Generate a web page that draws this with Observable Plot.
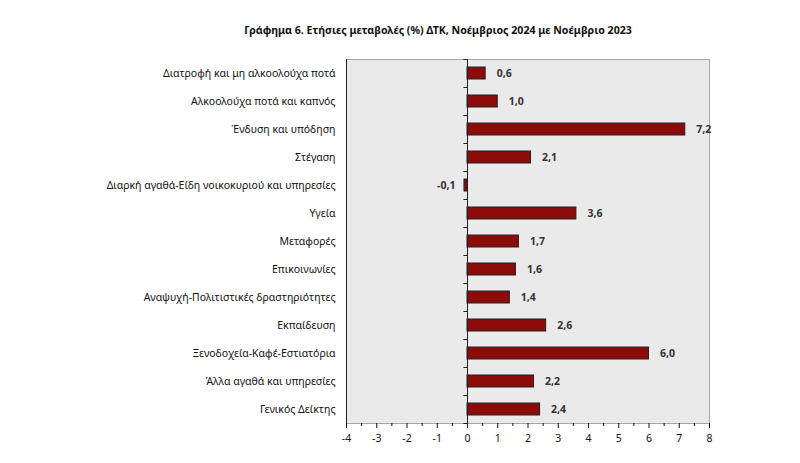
<!DOCTYPE html>
<html><head><meta charset="utf-8">
<script src="https://cdn.jsdelivr.net/npm/d3@7"></script>
<script src="https://cdn.jsdelivr.net/npm/@observablehq/plot@0.6"></script>
<style>
body{margin:0;background:#fff;}
#wrap{position:relative;width:800px;height:463px;}
#title{position:absolute;left:0;width:876px;top:23px;text-align:center;font:bold 10.6px "Noto Sans",sans-serif;color:#111;}
</style></head>
<body><div id="wrap"><div id="title">Γράφημα 6. Ετήσιες μεταβολές (%) ΔΤΚ, Νοέμβριος 2024 με Νοέμβριο 2023</div></div>
<script>
const categories = ["Διατροφή και μη αλκοολούχα ποτά","Αλκοολούχα ποτά και καπνός","Ένδυση και υπόδηση","Στέγαση","Διαρκή αγαθά-Είδη νοικοκυριού και υπηρεσίες","Υγεία","Μεταφορές","Επικοινωνίες","Αναψυχή-Πολιτιστικές δραστηριότητες","Εκπαίδευση","Ξενοδοχεία-Καφέ-Εστιατόρια","Άλλα αγαθά και υπηρεσίες","Γενικός Δείκτης"];
const values = [0.6,1.0,7.2,2.1,-0.1,3.6,1.7,1.6,1.4,2.6,6.0,2.2,2.4];
const xTicks = [-4,-3,-2,-1,0,1,2,3,4,5,6,7,8];
const data = categories.map((c,i)=>({c, v: values[i]}));
const fmt = v => v.toFixed(1).replace(".", ",");
const halfTicks = d3.range(-3.5, 8, 1);
const pos = data.filter(d => d.v >= 0), neg = data.filter(d => d.v < 0);
const chart = Plot.plot({
  width: 800, height: 463,
  marginLeft: 346, marginRight: 91, marginTop: 59, marginBottom: 40,
  style: {fontFamily: "'Noto Sans', sans-serif", fontSize: "10.5px", color: "#111", background: "transparent"},
  x: {domain: [-4, 8]},
  y: {domain: categories, paddingInner: 0.57, paddingOuter: 0.285, label: null},
  marks: [
    Plot.frame({fill: "#eaeaea", fillOpacity: 1, stroke: "#a6a6a6"}),
    Plot.axisY({tickSize: 0, tickPadding: 11, label: null, fontSize: 10.5}),
    Plot.axisX({ticks: xTicks, tickSize: 5, tickPadding: 6, tickFormat: d => d, label: null, fontSize: 10.5}),
    Plot.axisX({ticks: halfTicks, tickSize: 3, tickFormat: () => "", label: null}),
    Plot.ruleX([-4], {stroke: "#222"}),
    Plot.barX(data, {y: "c", x: "v", fill: "#8b0a0a", stroke: "#222", strokeWidth: 1}),
    Plot.ruleX([0], {stroke: "#222"}),
    Plot.ruleY(data, {y: "c", x1: -0.12, x2: 0, dy: -14, stroke: "#222"}),
    Plot.ruleY(data.slice(-1), {y: "c", x1: -0.12, x2: 0, dy: 14, stroke: "#222"}),
    Plot.text(pos, {y: "c", x: "v", text: d => fmt(d.v), textAnchor: "start", dx: 11, fontSize: 10.5, fontWeight: "bold", fill: "#333"}),
    Plot.text(neg, {y: "c", x: "v", text: d => fmt(d.v), textAnchor: "end", dx: -9, fontSize: 10.5, fontWeight: "bold", fill: "#333"})
  ]
});
document.getElementById("wrap").prepend(chart);
</script></body></html>
